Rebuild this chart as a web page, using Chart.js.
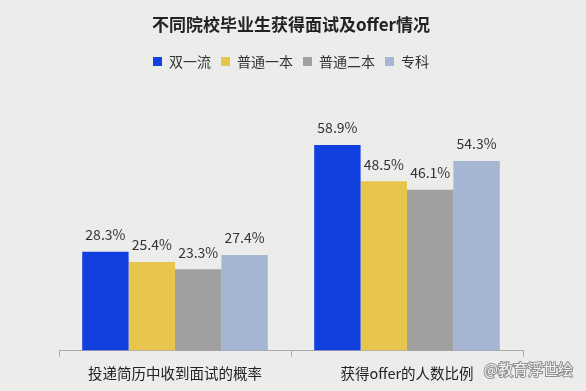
<!DOCTYPE html>
<html>
<head>
<meta charset="utf-8">
<script src="https://cdn.jsdelivr.net/npm/chart.js@4/dist/chart.umd.min.js"></script>
<style>
  html, body { margin: 0; padding: 0; background: #ececeb; }
  .chart-container { width: 586px; height: 391px; position: relative; }
</style>
</head>
<body>
<div class="chart-container">
  <canvas id="chart"></canvas>
</div>
<script>
const categories = ['投递简历中收到面试的概率', '获得offer的人数比例'];
const seriesNames = ['双一流', '普通一本', '普通二本', '专科'];
const shuangYiLiu = [28.3, 58.9];
const yiBen = [25.4, 48.5];
const erBen = [23.3, 46.1];
const zhuanKe = [27.4, 54.3];
const colors = ['#1240e0', '#e8c54c', '#a0a0a0', '#a7b5d5'];

const FONT = '"Noto Sans CJK SC", "Noto Sans", sans-serif';

// value labels above each bar
const valueLabels = {
  id: 'valueLabels',
  afterDatasetsDraw(chart) {
    const ctx = chart.ctx;
    ctx.save();
    ctx.font = '14px ' + FONT;
    ctx.fillStyle = '#333';
    ctx.textAlign = 'center';
    ctx.textBaseline = 'middle';
    chart.data.datasets.forEach((ds, i) => {
      chart.getDatasetMeta(i).data.forEach((bar, j) => {
        ctx.fillText(ds.data[j].toFixed(1) + '%', bar.x, bar.y - 17);
      });
    });
    ctx.restore();
  }
};

// watermark in the bottom right corner
const watermark = {
  id: 'watermark',
  afterDraw(chart) {
    const ctx = chart.ctx;
    ctx.save();
    ctx.font = '15px ' + FONT;
    ctx.textAlign = 'right';
    ctx.textBaseline = 'middle';
    ctx.lineWidth = 2;
    ctx.strokeStyle = 'rgba(120,120,120,0.8)';
    ctx.strokeText('@教育浮世绘', 573, 369);
    ctx.fillStyle = 'rgba(250,250,250,0.95)';
    ctx.fillText('@教育浮世绘', 573, 369);
    ctx.restore();
  }
};

const seriesData = [shuangYiLiu, yiBen, erBen, zhuanKe];

new Chart(document.getElementById('chart'), {
  type: 'bar',
  data: {
    labels: categories,
    datasets: seriesNames.map((name, i) => ({
      label: name,
      data: seriesData[i],
      backgroundColor: colors[i],
      borderWidth: 0,
      categoryPercentage: 0.8,
      barPercentage: 1.0
    }))
  },
  options: {
    responsive: true,
    maintainAspectRatio: false,
    animation: false,
    layout: { padding: { left: 59, right: 63, top: 0, bottom: 1 } },
    plugins: {
      title: {
        display: true,
        text: '不同院校毕业生获得面试及offer情况',
        color: '#222',
        font: { family: FONT, size: 17, weight: 'bold' },
        padding: { top: 14, bottom: 10 }
      },
      legend: {
        display: true,
        labels: {
          boxWidth: 9,
          boxHeight: 9,
          padding: 10,
          color: '#333',
          font: { family: FONT, size: 14 }
        }
      },
      tooltip: { enabled: false }
    },
    scales: {
      x: {
        grid: {
          display: true,
          drawOnChartArea: false,
          drawTicks: true,
          tickLength: 6,
          color: '#aaa'
        },
        border: { display: true, color: '#aaa' },
        ticks: {
          color: '#222',
          padding: 8,
          font: { family: FONT, size: 14.5 }
        }
      },
      y: {
        display: false,
        min: 0,
        max: 78
      }
    }
  },
  plugins: [valueLabels, watermark]
});
</script>
</body>
</html>
